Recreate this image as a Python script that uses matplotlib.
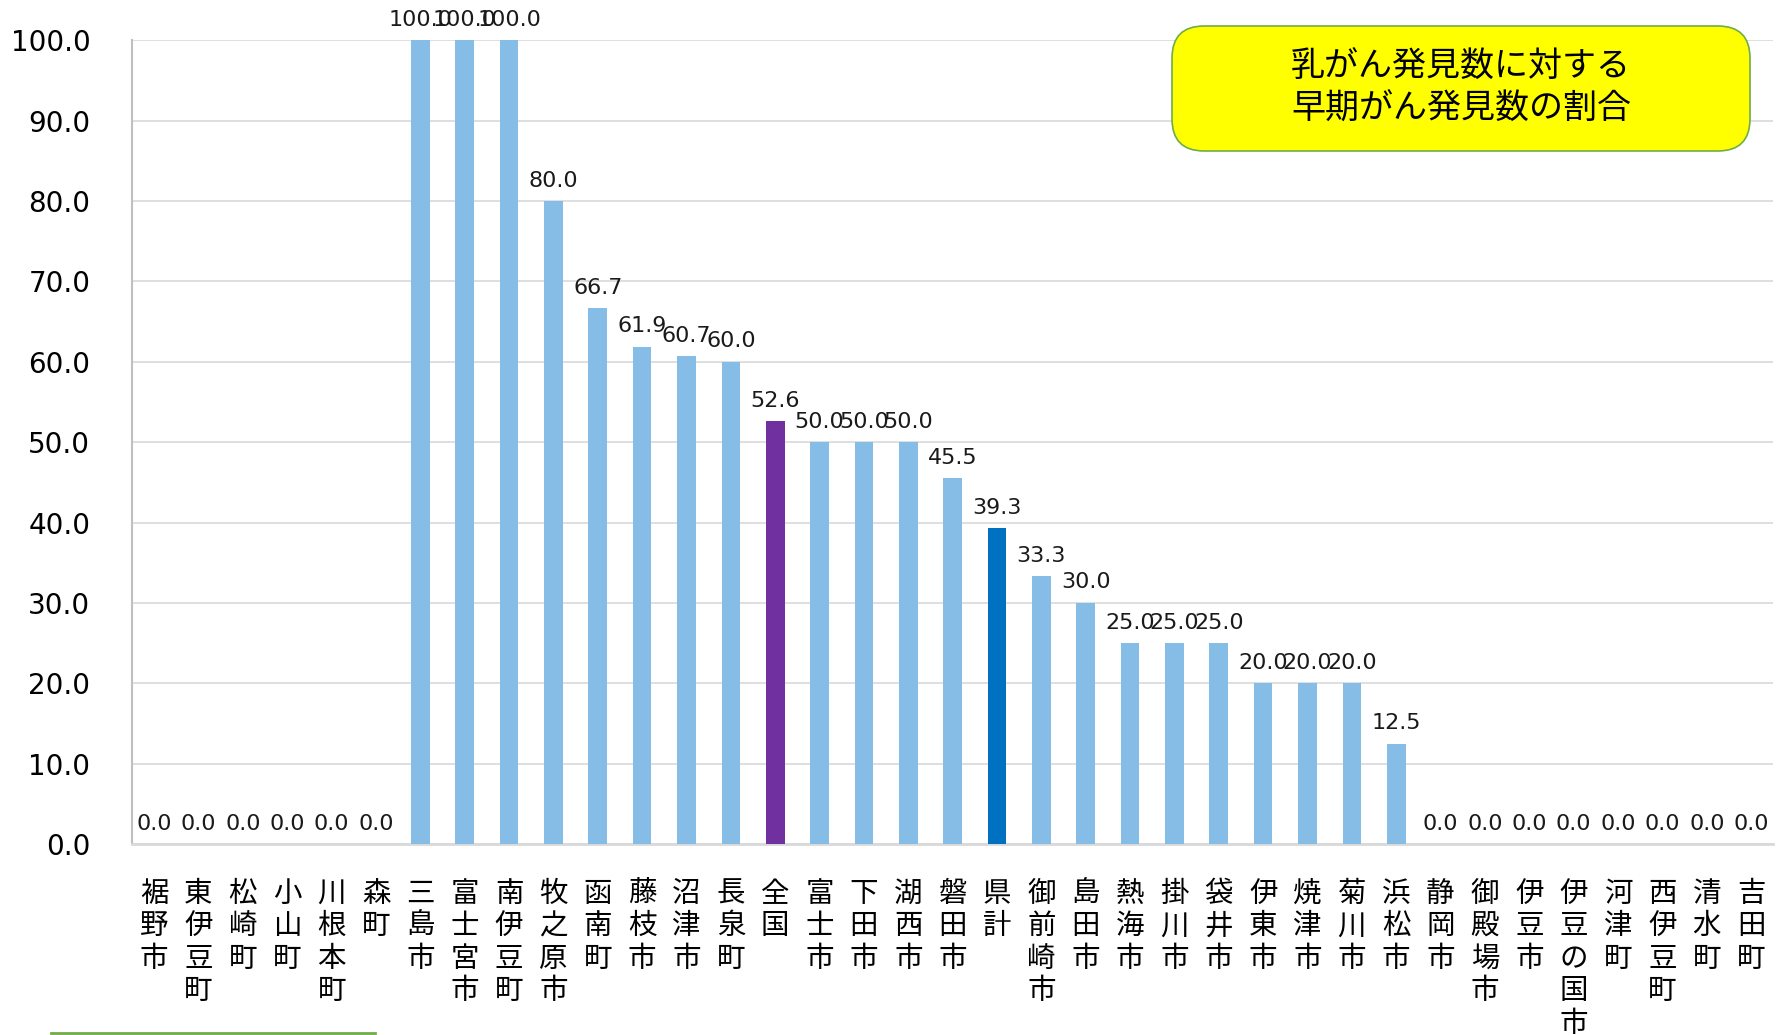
import numpy as np
import matplotlib.pyplot as plt
from matplotlib.patches import FancyBboxPatch
from matplotlib.lines import Line2D

plt.rcParams['font.family'] = ['DejaVu Sans', 'Noto Sans CJK JP']

# data
names = ['裾野市', '東伊豆町', '松崎町', '小山町', '川根本町', '森町',
         '三島市', '富士宮市', '南伊豆町', '牧之原市', '函南町', '藤枝市',
         '沼津市', '長泉町', '全国', '富士市', '下田市', '湖西市', '磐田市',
         '県計', '御前崎市', '島田市', '熱海市', '掛川市', '袋井市', '伊東市',
         '焼津市', '菊川市', '浜松市', '静岡市', '御殿場市', '伊豆市',
         '伊豆の国市', '河津町', '西伊豆町', '清水町', '吉田町']
values = [0.0, 0.0, 0.0, 0.0, 0.0, 0.0,
          100.0, 100.0, 100.0, 80.0, 66.7, 61.9,
          60.7, 60.0, 52.6, 50.0, 50.0, 50.0, 45.5,
          39.3, 33.3, 30.0, 25.0, 25.0, 25.0, 20.0,
          20.0, 20.0, 12.5, 0.0, 0.0, 0.0,
          0.0, 0.0, 0.0, 0.0, 0.0]
yticks = [0, 10, 20, 30, 40, 50, 60, 70, 80, 90, 100]
title_lines = ['乳がん発見数に対する', '早期がん発見数の割合']

# colours
base_col = '#85BDE6'
special = {'全国': '#7030A0', '県計': '#0070C0'}
colors = [special.get(n, base_col) for n in names]

fig = plt.figure(figsize=(17.84, 10.35), dpi=100)
ax = fig.add_axes([0.074, 0.1845, 0.920, 0.7765])

x = np.arange(len(names))
ax.bar(x, values, width=0.42, color=colors, zorder=3)

for xi, v in zip(x, values):
    ax.text(xi, v + 1.3, f'{v:.1f}', ha='center', va='bottom',
            fontsize=16, color='#1a1a1a', clip_on=False, zorder=4)

ax.set_xlim(-0.5, len(names) - 0.5)
ax.set_ylim(0, 100)
ax.set_yticks(yticks)
ax.set_yticklabels([f'{t:.1f}' for t in yticks], fontsize=20)
ax.set_xticks(x)
ax.set_xticklabels(['\n'.join(n) for n in names], fontsize=20.5,
                   va='top', linespacing=1.11, family=['Noto Sans CJK JP'])
ax.tick_params(axis='x', length=0, pad=25)
ax.tick_params(axis='y', length=0, pad=30)

ax.grid(axis='y', color='#D9D9D9', linewidth=1.2, zorder=0)
for s in ['top', 'right']:
    ax.spines[s].set_visible(False)
ax.spines['left'].set_color('#BFBFBF')
ax.spines['bottom'].set_color('#D9D9D9')
ax.spines['left'].set_linewidth(1.5)
ax.spines['bottom'].set_linewidth(2)

# title box
bx0, by0, bw, bh = 1172 / 1784, 1 - 151 / 1035, 578 / 1784, 125 / 1035
box = FancyBboxPatch((bx0, by0), bw, bh, transform=fig.transFigure,
                     boxstyle='round,pad=0,rounding_size=0.018',
                     facecolor='#FFFF00', edgecolor='#70AD47', linewidth=1.2,
                     mutation_aspect=1784 / 1035, zorder=5)
fig.patches.append(box)
fig.text(bx0 + bw / 2, by0 + bh / 2, '\n'.join(title_lines), ha='center',
         va='center', fontsize=24.5, linespacing=1.25,
         family=['Noto Sans CJK JP'], zorder=6)

# partial shape at bottom-left
fig.lines.append(Line2D([51 / 1784, 375 / 1784], [2.5 / 1035, 2.5 / 1035],
                        transform=fig.transFigure, color='#70AD47',
                        linewidth=2))

fig.savefig('out.png', dpi=100)
